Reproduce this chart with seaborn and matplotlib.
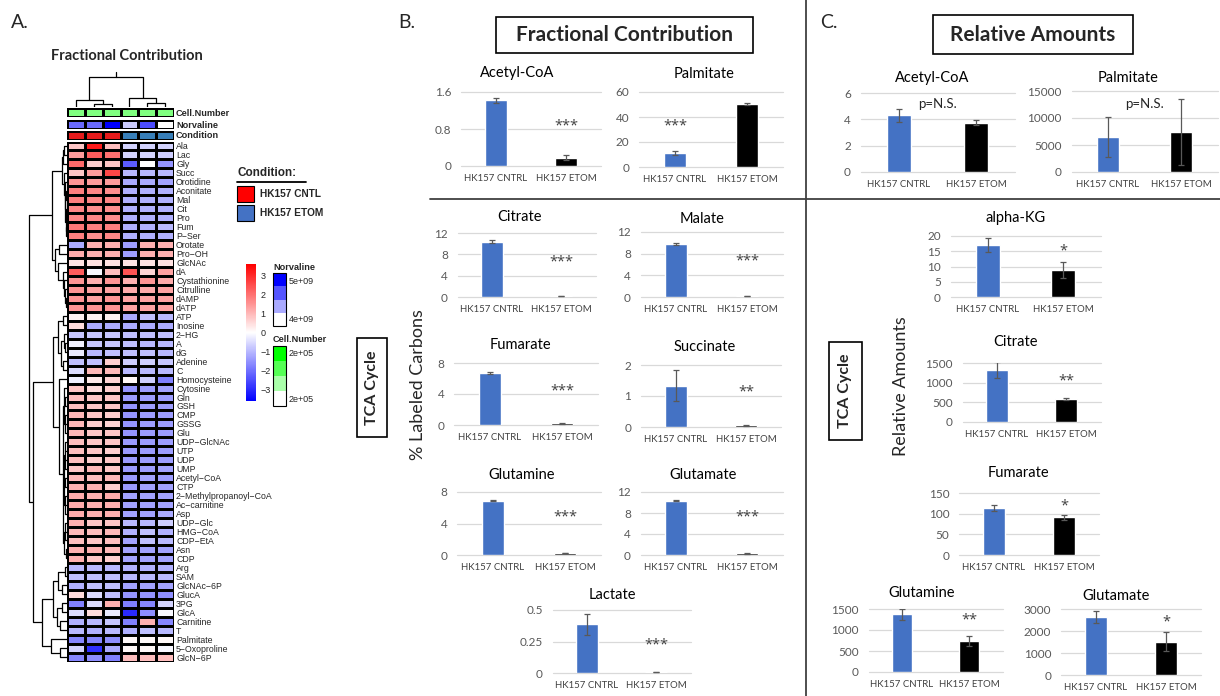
import numpy as np
import pandas as pd
import matplotlib
matplotlib.use("Agg")
import matplotlib.pyplot as plt
import seaborn as sns
from matplotlib.colors import LinearSegmentedColormap, ListedColormap, Normalize
from matplotlib.patches import Rectangle
from matplotlib.cm import ScalarMappable

# ---------------------------------------------------------------- data
M = "\u2212"
hm_rows = ["Ala", "Lac", "Gly", "Succ", "Orotidine", "Aconitate", "Mal", "Cit", "Pro", "Fum",
           "P" + M + "Ser", "Orotate", "Pro" + M + "OH", "GlcNAc", "dA", "Cystathionine", "Citrulline",
           "dAMP", "dATP", "ATP", "Inosine", "2" + M + "HG", "A", "dG", "Adenine", "C", "Homocysteine",
           "Cytosine", "Gln", "GSH", "CMP", "GSSG", "Glu", "UDP" + M + "GlcNAc", "UTP", "UDP", "UMP",
           "Acetyl" + M + "CoA", "CTP", "2" + M + "Methylpropanoyl" + M + "CoA", "Ac" + M + "carnitine",
           "Asp", "UDP" + M + "Glc", "HMG" + M + "CoA", "CDP" + M + "EtA", "Asn", "CDP", "Arg", "SAM",
           "GlcNAc" + M + "6P", "GlucA", "3PG", "GlcA", "Carnitine", "T", "Palmitate",
           "5" + M + "Oxoproline", "GlcN" + M + "6P"]
hm_samples = ["CNTL_1", "CNTL_2", "CNTL_3", "ETOM_1", "ETOM_2", "ETOM_3"]
hm_values = [
    [0.8, 3.2, 0.9, -0.6, -0.6, -0.6],    # Ala
    [1.4, 2.3, 2.0, -0.6, -0.6, -0.7],    # Lac
    [2.1, 0.7, 0.8, -2.3, 0.0, -1.5],     # Gly
    [0.8, 1.4, 2.6, -1.0, -1.0, -1.0],    # Succ
    [1.5, 1.4, 1.4, -1.2, -1.2, -1.3],    # Orotidine
    [1.8, 1.7, 1.6, -1.1, -1.1, -1.1],    # Aconitate
    [1.8, 1.7, 1.7, -1.1, -1.1, -1.1],    # Mal
    [1.7, 1.6, 1.6, -1.1, -1.1, -1.1],    # Cit
    [1.7, 1.7, 1.6, -1.1, -1.1, -1.1],    # Pro
    [1.9, 1.8, 1.8, -1.1, -1.1, -1.0],    # Fum
    [1.8, 1.6, 1.7, -1.1, -1.1, -1.1],    # P-Ser
    [-1.2, 1.1, 1.1, -1.4, 1.1, 1.1],     # Orotate
    [1.2, 1.1, 1.1, -1.4, 1.1, 1.1],      # Pro-OH
    [0.4, 0.4, 0.4, 0.4, 0.4, 0.4],       # GlcNAc
    [2.3, -0.1, 0.9, 2.4, 0.6, 1.3],      # dA
    [1.5, 1.1, 1.5, 1.1, 1.5, 1.2],       # Cystathionine
    [1.5, 1.3, 1.3, 1.2, 1.2, 1.3],       # Citrulline
    [1.5, 1.3, 1.5, 1.3, 1.3, 1.3],       # dAMP
    [1.5, 1.5, 1.5, 1.3, 1.3, 1.3],       # dATP
    [0.2, 0.2, 0.2, -1.2, -0.9, -1.0],    # ATP
    [0.5, -1.2, -1.2, -1.2, -1.2, -1.2],  # Inosine
    [-0.8, -0.8, -0.8, -0.9, -0.9, -0.9], # 2-HG
    [-0.2, -0.8, -0.8, -0.9, -1.0, -1.0], # A
    [-0.3, -1.0, -0.9, -0.9, -0.9, -1.0], # dG
    [-0.9, -0.9, 0.7, -0.7, -0.7, -0.8],  # Adenine
    [-0.5, 1.0, 1.0, -1.0, -1.0, -1.0],   # C
    [-0.2, 0.3, 0.6, 0.1, -0.7, -1.8],    # Homocysteine
    [0.8, 0.5, 0.7, -1.5, -1.4, -1.3],    # Cytosine
    [0.9, 0.8, 0.8, -1.4, -1.4, -1.4],    # Gln
    [0.9, 0.8, 0.8, -1.5, -1.4, -1.4],    # GSH
    [1.0, 0.8, 0.7, -1.5, -1.4, -1.4],    # CMP
    [1.0, 0.7, 0.6, -1.5, -1.4, -1.4],    # GSSG
    [1.0, 0.8, 0.8, -1.5, -1.4, -1.4],    # Glu
    [0.9, 0.8, 0.8, -1.4, -1.4, -1.4],    # UDP-GlcNAc
    [0.9, 0.8, 0.7, -1.4, -1.4, -1.4],    # UTP
    [0.9, 0.7, 0.8, -1.4, -1.4, -1.4],    # UDP
    [0.8, 1.0, 0.8, -1.4, -1.4, -1.3],    # UMP
    [1.0, 0.9, 1.0, -1.4, -1.3, -1.4],    # Acetyl-CoA
    [1.1, 1.1, 0.7, -1.4, -1.3, -1.3],    # CTP
    [1.2, 1.1, 1.2, -1.3, -1.3, -1.3],    # 2-Methylpropanoyl-CoA
    [1.2, 1.1, 1.1, -1.3, -1.3, -1.3],    # Ac-carnitine
    [1.2, 1.1, 1.1, -1.3, -1.3, -1.2],    # Asp
    [1.1, 0.8, 0.8, -1.0, -1.0, -0.7],    # UDP-Glc
    [1.0, 0.9, 1.0, -1.1, -0.9, -1.1],    # HMG-CoA
    [0.9, 0.8, 0.9, -1.3, -0.9, -1.0],    # CDP-EtA
    [1.1, 1.1, 1.0, -1.3, -1.3, -1.3],    # Asn
    [1.1, 0.8, 0.7, -1.3, -1.3, -1.3],    # CDP
    [-1.0, -1.0, -1.0, -1.1, -1.1, -1.1], # Arg
    [-0.9, -0.9, -0.9, -1.0, -1.0, -1.0], # SAM
    [-1.1, -0.9, -0.9, -1.3, -1.3, -1.3], # GlcNAc-6P
    [0.5, -0.5, -0.9, -1.5, -1.5, -1.6],  # GlucA
    [-1.8, -0.5, 1.1, -1.8, -1.7, -0.6],  # 3PG
    [-0.5, 0.5, -0.3, -3.0, -1.6, -0.1],  # GlcA
    [-1.1, -1.0, -0.8, -1.8, 1.1, -1.7],  # Carnitine
    [-1.0, -1.1, -1.0, -1.1, -0.9, -1.0], # T
    [-1.7, -1.7, -1.6, 0.1, 0.1, 0.1],    # Palmitate
    [-0.6, -2.9, -1.2, 0.1, 0.1, -0.1],   # 5-Oxoproline
    [-1.7, -1.6, -1.8, 0.9, 0.9, 0.9],    # GlcN-6P
]
condition = ["HK157 CNTL", "HK157 CNTL", "HK157 CNTL", "HK157 ETOM", "HK157 ETOM", "HK157 ETOM"]
norvaline = [4.58e9, 4.58e9, 5.0e9, 4.2e9, 4.7e9, 4.0e9]
cell_number = [2.05e5, 2.05e5, 2.05e5, 2.05e5, 2.05e5, 2.05e5]

# hierarchical clustering trees: (merge height, [children]); ints are row / column indices
row_tree = (38, [
    (15, [
        (5, [(4, [(3, [0, 1]), 2]),
             (3.5, [3, (2.5, [4, (2, [(1.2, [5, 6]), (1.5, [(1, [7, 8]), (1.2, [9, 10])])])])])]),
        (12, [(8, [11, 12]),
              (9, [13, (4.5, [14, (3, [15, (2, [16, (1.5, [17, 18])])])])])])]),
    (34, [
        (14, [(9, [(4, [19, 20]), (6, [(3.5, [21, (2.5, [22, 23])]), (4, [24, 25])])]),
              (8, [26, (4, [(3, [27, (2, [28, 29]), (2, [30, 31, 32])]),
                            (3.5, [(2.5, [33, 34, 35, 36]), (2, [37, 38]), (2.5, [39, 40, 41])]),
                            (3, [(2, [42, 43, 44]), (1.5, [45, 46])])])])]),
        (25, [(14, [(9, [(2, [47, 48]), (5, [49, 50])]), (10, [(5, [51, 52]), (7, [53, 54])])]),
              (16, [55, (7, [56, 57])])])])])
col_tree = (30, [(7, [0, (3, [1, 2])]), (9, [3, (4, [4, 5])])])

groups = ["HK157 CNTRL", "HK157 ETOM"]

fc_names = ["Acetyl-CoA", "Palmitate", "Citrate", "Malate", "Fumarate", "Succinate",
            "Glutamine", "Glutamate", "Lactate"]
fc_cntrl = [1.42, 11.0, 10.4, 9.8, 6.7, 1.33, 6.9, 10.3, 0.385]
fc_etom = [0.18, 50.5, 0.25, 0.2, 0.2, 0.05, 0.25, 0.3, 0.006]
fc_cntrl_err = [0.05, 1.5, 0.2, 0.25, 0.15, 0.5, 0.1, 0.1, 0.08]
fc_etom_err = [0.05, 1.0, 0.02, 0.02, 0.02, 0.01, 0.05, 0.05, 0.002]
fc_ticks = [[0, 0.8, 1.6], [0, 20, 40, 60], [0, 4, 8, 12], [0, 4, 8, 12], [0, 4, 8],
            [0, 1, 2], [0, 4, 8], [0, 4, 8, 12], [0, 0.25, 0.5]]
fc_sig = ["***", "***", "***", "***", "***", "**", "***", "***", "***"]
fc_sig_x = [1, 0, 1, 1, 1, 1, 1, 1, 1]
fc_sig_y = [0.95, 36, 7.3, 7.3, 4.9, 1.25, 5.3, 7.9, 0.25]
fc_etom_is_blue = [False, False, True, True, False, False, False, False, False]

ra_names = ["Acetyl-CoA", "Palmitate", "alpha-KG", "Citrate", "Fumarate", "Glutamine", "Glutamate"]
ra_cntrl = [4.3, 6500, 17.1, 1320, 113, 1370, 2620]
ra_etom = [3.75, 7400, 8.9, 580, 91, 740, 1520]
ra_cntrl_err = [0.5, 3700, 2.4, 200, 7, 120, 270]
ra_etom_err = [0.2, 6100, 2.6, 20, 6, 120, 430]
ra_ticks = [[0, 2, 4, 6], [0, 5000, 10000, 15000], [0, 5, 10, 15, 20], [0, 500, 1000, 1500],
            [0, 50, 100, 150], [0, 500, 1000, 1500], [0, 1000, 2000, 3000]]
ra_sig = ["p=N.S.", "p=N.S.", "*", "**", "*", "**", "*"]
ra_sig_x = [0.5, 0.5, 1, 1, 1, 1, 1]
ra_sig_y = [5.15, 12600, 16.1, 1140, 126, 1310, 2590]

# ---------------------------------------------------------------- layout (pixels)
W, H = 1220, 696
fc_boxes = [(461, 92, 601, 166), (639, 92, 783, 167), (457.5, 233, 595.5, 297), (640.5, 232, 782.5, 297),
            (454, 363, 598, 425), (641, 365, 781, 427), (457, 492, 601, 555), (640.5, 492, 782.5, 555),
            (552.5, 610, 690.5, 673)]
fc_title_xy = [(517, 73), (704, 74), (520, 217), (702, 219), (520, 345), (705, 347), (522, 475),
               (703, 475), (612, 595)]
ra_boxes = [(860.5, 93, 1014.5, 172), (1071.5, 91, 1217.5, 172), (950.5, 236, 1100.5, 297),
            (962.5, 363, 1100.5, 422), (959, 493, 1099, 555), (868.5, 609, 1002.5, 672),
            (1061, 609, 1201, 675)]
ra_title_xy = [(932, 78), (1128, 78), (1016, 218), (1016, 342), (1018, 473), (922, 593), (1116, 596)]

BLUE = "#4472c4"
BLACK = "#000000"
GRID = "#d9d9d9"
TICK = "#595959"
ERR = "#595959"

sns.set_theme(style="white")
plt.rcParams["font.family"] = ["Lato", "DejaVu Sans"]
plt.rcParams["axes.unicode_minus"] = True
HFONT = ["Liberation Sans", "DejaVu Sans"]

fig = plt.figure(figsize=(W / 100, H / 100), dpi=100)
fig.patch.set_facecolor("white")


def rect(x0, y0, x1, y1):
    return [x0 / W, 1 - y1 / H, (x1 - x0) / W, (y1 - y0) / H]


# ---------------------------------------------------------------- panel A heatmap
heat_cmap = LinearSegmentedColormap.from_list("bwr_ph", ["#0000ff", "#ffffff", "#ff0000"])
VLIM = 3.6
hm_df = pd.DataFrame(hm_values, index=hm_rows, columns=hm_samples)

ax_hm = fig.add_axes(rect(67, 141.5, 174, 661.5))
sns.heatmap(hm_df, ax=ax_hm, cmap=heat_cmap, vmin=-VLIM, vmax=VLIM, cbar=False,
            linewidths=0.8, linecolor="black", xticklabels=False, yticklabels=hm_rows)
ax_hm.yaxis.tick_right()
ax_hm.tick_params(axis="y", length=0, pad=1.5, labelsize=6.3, labelright=True, labelleft=False)
for t in ax_hm.get_yticklabels():
    t.set_rotation(0)
    t.set_family(HFONT)
ax_hm.set_xlabel("")
ax_hm.set_ylabel("")

# annotation rows
ann_specs = [
    ("Cell.Number", cell_number, LinearSegmentedColormap.from_list("g", ["#ffffff", "#00ff00"]), 1.95e5, 2.15e5, (108, 117)),
    ("Norvaline", norvaline, LinearSegmentedColormap.from_list("b", ["#ffffff", "#0000ff"]), 4.0e9, 5.0e9, (119.5, 128.5)),
    ("Condition", [0 if c == "HK157 CNTL" else 1 for c in condition], ListedColormap(["#e41a1c", "#377eb8"]), 0, 1, (130.5, 139.5)),
]
for name, vals, cm, lo, hi, (ya, yb) in ann_specs:
    a = fig.add_axes(rect(67, ya, 174, yb))
    sns.heatmap(pd.DataFrame([vals], index=[name]), ax=a, cmap=cm, vmin=lo, vmax=hi, cbar=False,
                linewidths=0.8, linecolor="black", xticklabels=False, yticklabels=[name])
    a.yaxis.tick_right()
    a.tick_params(axis="y", length=0, pad=1.5, labelsize=6.6, labelright=True, labelleft=False)
    for t in a.get_yticklabels():
        t.set_rotation(0)
        t.set_family(HFONT)
        t.set_fontweight("bold")
    a.set_xlabel("")
    a.set_ylabel("")


def draw_tree(ax, node, orient):
    if isinstance(node, int):
        return node + 0.5, 0.0
    h, kids = node
    res = [draw_tree(ax, k, orient) for k in kids]
    ps = [r[0] for r in res]
    for p, ch in res:
        if orient == "row":
            ax.plot([ch, h], [p, p], color="black", lw=0.9, solid_capstyle="butt")
        else:
            ax.plot([p, p], [ch, h], color="black", lw=0.9, solid_capstyle="butt")
    if orient == "row":
        ax.plot([h, h], [min(ps), max(ps)], color="black", lw=0.9)
    else:
        ax.plot([min(ps), max(ps)], [h, h], color="black", lw=0.9)
    return (min(ps) + max(ps)) / 2, h


ax_rd = fig.add_axes(rect(28, 141.5, 67, 661.5))
ax_rd.set_ylim(len(hm_rows), 0)
ax_rd.set_xlim(39, 0)
ax_rd.axis("off")
draw_tree(ax_rd, row_tree, "row")

ax_cd = fig.add_axes(rect(67, 70, 174, 107))
ax_cd.set_xlim(0, len(hm_samples))
ax_cd.set_ylim(0, 37)
ax_cd.axis("off")
pos, top = draw_tree(ax_cd, col_tree, "col")
ax_cd.plot([pos, pos], [top, top + 5], color="black", lw=0.9)

# main colour key
cax = fig.add_axes(rect(246, 264, 256, 401))
cb = fig.colorbar(ScalarMappable(norm=Normalize(-VLIM, VLIM), cmap=heat_cmap), cax=cax)
cb.outline.set_visible(False)
cb.set_ticks([-3, -2, -1, 0, 1, 2, 3])
cb.set_ticklabels([M + "3", M + "2", M + "1", "0", "1", "2", "3"])
cax.tick_params(length=0, pad=3, labelsize=6.5)
for t in cax.get_yticklabels():
    t.set_family(HFONT)

# annotation legends (4 colour steps)
def step_legend(box, cm, lo, hi):
    a = fig.add_axes(rect(*box))
    steps = np.linspace(hi, lo, 4)
    sns.heatmap(pd.DataFrame({"v": steps}), ax=a, cmap=cm, vmin=lo, vmax=hi, cbar=False,
                xticklabels=False, yticklabels=False)
    a.add_patch(Rectangle((0, 0), 1, 4, fill=False, edgecolor="black", lw=0.8, clip_on=False))
    a.set_xlabel("")
    a.set_ylabel("")
    return a

step_legend((273, 273, 286, 326), ann_specs[1][2], 4.0e9, 5.0e9)
step_legend((273, 346, 286, 406), ann_specs[0][2], 1.95e5, 2.15e5)

# ---------------------------------------------------------------- bar charts
def bar_chart(box, cval, eval_, cerr, eerr, ecolor, ticks, sig, sx, sy):
    ax = fig.add_axes(rect(*box))
    d = pd.DataFrame({"group": groups, "value": [cval, eval_]})
    sns.barplot(data=d, x="group", y="value", hue="group", palette=[BLUE, ecolor], width=0.31,
                errorbar=None, legend=False, ax=ax, saturation=1)
    ax.errorbar([0, 1], [cval, eval_], yerr=[cerr, eerr], fmt="none", ecolor=ERR, elinewidth=0.9,
                capsize=2.3, capthick=0.9, zorder=5)
    ax.set_xlim(-0.5, 1.5)
    ax.set_ylim(0, ticks[-1])
    ax.set_yticks(ticks)
    ax.set_yticklabels([f"{t:g}" for t in ticks], fontsize=8.5, color=TICK)
    ax.set_xticks([0, 1])
    ax.set_xticklabels(groups, fontsize=6.9, color="#404040")
    ax.tick_params(axis="both", length=0)
    ax.tick_params(axis="y", pad=7)
    ax.tick_params(axis="x", pad=6)
    ax.set_xlabel("")
    ax.set_ylabel("")
    for s in ax.spines.values():
        s.set_visible(False)
    ax.yaxis.grid(True, color=GRID, lw=0.9)
    ax.set_axisbelow(True)
    for gl in ax.get_ygridlines():
        gl.set_clip_on(False)
    ax.patch.set_alpha(0)
    if sig.startswith("*"):
        ax.annotate(sig, (sx, sy), xytext=(0, -2.5), textcoords="offset points", ha="center",
                    va="center", fontsize=10.5, color="#404040", family=["Open Sans", "DejaVu Sans"])
    else:
        ax.text(sx, sy, sig, ha="center", va="center", fontsize=9.5, color="#262626")
    return ax


for i in range(len(fc_names)):
    bar_chart(fc_boxes[i], fc_cntrl[i], fc_etom[i], fc_cntrl_err[i], fc_etom_err[i],
              BLUE if fc_etom_is_blue[i] else BLACK, fc_ticks[i], fc_sig[i], fc_sig_x[i], fc_sig_y[i])
for i in range(len(ra_names)):
    bar_chart(ra_boxes[i], ra_cntrl[i], ra_etom[i], ra_cntrl_err[i], ra_etom_err[i],
              BLACK, ra_ticks[i], ra_sig[i], ra_sig_x[i], ra_sig_y[i])

# ---------------------------------------------------------------- overlay (texts, boxes, separators)
ov = fig.add_axes([0, 0, 1, 1])
ov.set_xlim(0, W)
ov.set_ylim(H, 0)
ov.axis("off")

for (tx, ty), name in zip(fc_title_xy, fc_names):
    ov.text(tx, ty, name, ha="center", va="center", fontsize=10.5, color="#000000")
for (tx, ty), name in zip(ra_title_xy, ra_names):
    ov.text(tx, ty, name, ha="center", va="center", fontsize=10.5, color="#000000")

ov.text(20, 22, "A.", ha="center", va="center", fontsize=14)
ov.text(407, 22, "B.", ha="center", va="center", fontsize=14)
ov.text(829, 22, "C.", ha="center", va="center", fontsize=14)
ov.text(127, 56, "Fractional Contribution", ha="center", va="center", fontsize=10.5, fontweight="bold")

ov.add_patch(Rectangle((496, 17), 257, 36, fill=False, edgecolor="black", lw=1.2))
ov.text(624, 35, "Fractional Contribution", ha="center", va="center", fontsize=15, fontweight="bold")
ov.add_patch(Rectangle((933, 15), 200, 39, fill=False, edgecolor="black", lw=1.2))
ov.text(1033, 35, "Relative Amounts", ha="center", va="center", fontsize=15, fontweight="bold")

ov.add_patch(Rectangle((357, 338), 30, 99, fill=False, edgecolor="black", lw=1.2))
ov.text(372, 387.5, "TCA Cycle", ha="center", va="center", rotation=90, fontsize=11.5, fontweight="bold")
ov.add_patch(Rectangle((829, 342), 33, 98, fill=False, edgecolor="black", lw=1.2))
ov.text(845.5, 391, "TCA Cycle", ha="center", va="center", rotation=90, fontsize=11.5, fontweight="bold")

ov.text(418, 385, "% Labeled Carbons", ha="center", va="center", rotation=90, fontsize=13)
ov.text(901, 386, "Relative Amounts", ha="center", va="center", rotation=90, fontsize=13)

ov.plot([430, 1220], [199, 199], color="#404040", lw=1.3)
ov.plot([806, 806], [0, 696], color="#404040", lw=1.3)

# condition legend
ov.text(237, 173, "Condition:", ha="left", va="center", fontsize=8.5, fontweight="bold", family=HFONT)
ov.plot([237, 306], [182, 182], color="black", lw=1.3)
ov.add_patch(Rectangle((237, 186), 17, 16, facecolor="#ff0000", edgecolor="black", lw=0.8))
ov.text(260, 194, "HK157 CNTL", ha="left", va="center", fontsize=7.3, fontweight="bold", family=HFONT)
ov.add_patch(Rectangle((237, 205), 17, 16, facecolor=BLUE, edgecolor="black", lw=0.8))
ov.text(260, 213, "HK157 ETOM", ha="left", va="center", fontsize=7.3, fontweight="bold", family=HFONT)

# annotation legend texts
ov.text(273, 268, "Norvaline", ha="left", va="center", fontsize=6.6, fontweight="bold", family=HFONT)
ov.text(289, 281, "5e+09", ha="left", va="center", fontsize=6.5, family=HFONT)
ov.text(289, 320, "4e+09", ha="left", va="center", fontsize=6.5, family=HFONT)
ov.text(273, 340, "Cell.Number", ha="left", va="center", fontsize=6.6, fontweight="bold", family=HFONT)
ov.text(289, 353, "2e+05", ha="left", va="center", fontsize=6.5, family=HFONT)
ov.text(289, 400, "2e+05", ha="left", va="center", fontsize=6.5, family=HFONT)

fig.savefig("out.png", dpi=100)
